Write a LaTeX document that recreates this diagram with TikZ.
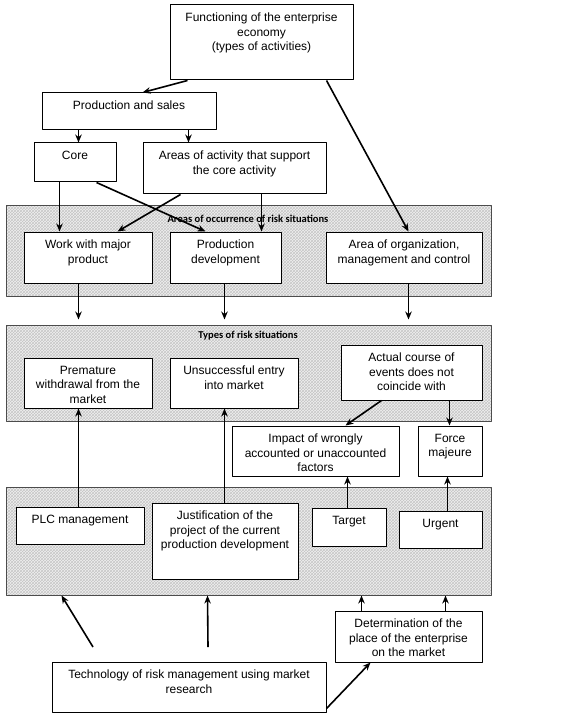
\documentclass[tikz,border=0pt]{standalone}
\usepackage{fontspec}
\setmainfont{Liberation Sans}
\newfontfamily\bandfont{Carlito}
\usetikzlibrary{fit,patterns,arrows.meta}
\tikzset{
  box/.style={draw, fill=white, inner sep=0pt, line width=1pt},
  txt/.style={anchor=north, align=center, inner sep=0pt, yshift=-8.5pt, font=\fontsize{12}{14.5}\selectfont},
  band/.style={draw=black!70, line width=1pt, inner sep=0pt, preaction={fill=gray!12}, pattern=crosshatch, pattern color=gray!45},
  bandlbl/.style={font=\bandfont\bfseries\fontsize{10.5}{12}\selectfont},
  link/.style={->, line width=1.6pt}
}
\newcommand{\bx}[6]{\node[box, fit={(#2,#3) (#4,#5)}, label={[txt]north:{#6}}] (#1) {};}
\begin{document}
\begin{tikzpicture}[x=1pt, y=-1pt, >={Stealth[length=8pt,width=6.5pt]}, line join=round]
\useasboundingbox (0,0) rectangle (560,727);
% bands
\node[band, fit={(6,206) (491,296)}] (areas) {};
\node[band, fit={(6,325) (491,421)}] (types) {};
\node[band, fit={(6,487) (491,595)}] (tools) {};
\node[bandlbl] (areaslbl) at (248,219) {Areas of occurrence of risk situations};
\node[bandlbl] (typeslbl) at (248,336) {Types of risk situations};
% boxes
\bx{fun}{170}{5}{353}{80}{Functioning of the enterprise\\economy\\(types of activities)}
\bx{prod}{42}{93}{216}{130}{Production and sales}
\bx{core}{34}{143}{116}{182}{Core}
\bx{supp}{143}{143}{326}{194}{Areas of activity that support\\the core activity}
\bx{work}{24}{232}{152}{283}{Work with major\\product}
\bx{pdev}{170}{232}{281}{283}{Production\\development}
\bx{org}{326}{232}{482}{283}{Area of organization,\\management and control}
\bx{prem}{24}{358}{152}{408}{Premature\\withdrawal from the\\market}
\bx{entry}{170}{358}{298}{408}{Unsuccessful entry\\into market}
\bx{actual}{341}{345}{482}{400}{Actual course of\\events does not\\coincide with}
\bx{impact}{232}{426}{399}{476}{Impact of wrongly\\accounted or unaccounted\\factors}
\bx{force}{418}{426}{482}{476}{Force\\majeure}
\bx{plc}{16}{507}{144}{544}{PLC management}
\bx{just}{152}{503}{298}{579}{Justification of the\\project of the current\\production development}
\bx{target}{312}{508}{386}{546}{Target}
\bx{urgent}{399}{511}{482}{548}{Urgent}
\bx{det}{335}{611}{482}{662}{Determination of the\\place of the enterprise\\on the market}
\bx{tech}{52}{662}{326}{712}{Technology of risk management using market\\research}
\coordinate (t1) at (93,647);
\coordinate (t2) at (208,647);
% connectors
\draw[link] ([xshift=18pt]fun.south west) -- ([xshift=101pt]prod.north west);
\draw[link] ([xshift=157pt]fun.south west) -- ([xshift=83pt]org.north west);
\draw[link] ([xshift=37pt]prod.south west) -- ([xshift=45pt]core.north west);
\draw[link] ([xshift=147pt]prod.south west) -- ([xshift=46pt]supp.north west);
\draw[link] ([xshift=26pt]core.south west) -- ([xshift=36pt]work.north west);
\draw[link] ([xshift=63pt]core.south west) -- ([xshift=36pt]pdev.north west);
\draw[link] ([xshift=38pt]supp.south west) -- ([xshift=94pt]work.north west);
\draw[link] ([xshift=119pt]supp.south west) -- ([xshift=92pt]pdev.north west);
\foreach \n/\d in {work/55, pdev/55, org/83}
  \draw[link, shorten >=5pt] ([xshift=\d pt]\n.south west) -- ([xshift=\d pt]\n.south west |- types.north);
\draw[link] ([xshift=41pt]actual.south west) -- ([xshift=114pt]impact.north west);
\draw[link] ([xshift=109pt]actual.south west) -- ([xshift=32pt]force.north west);
\draw[link] ([xshift=63pt]plc.north west) -- ([xshift=55pt]prem.south west);
\draw[link] ([xshift=73pt]just.north west) -- ([xshift=55pt]entry.south west);
\draw[link] ([xshift=36pt]target.north west) -- ([xshift=116pt]impact.south west);
\draw[link] ([xshift=49pt]urgent.north west) -- ([xshift=30pt]force.south west);
\draw[link] (t1) -- ([xshift=56pt]tools.south west);
\draw[link] (t2) -- ([xshift=202pt]tools.south west);
\draw[link] ([xshift=27pt]det.north west) -- ([xshift=356pt]tools.south west);
\draw[link] ([xshift=111pt]det.north west) -- ([xshift=440pt]tools.south west);
\draw[link] ([yshift=4pt]tech.south east) -- ([xshift=36pt]det.south west);
\end{tikzpicture}
\end{document}
